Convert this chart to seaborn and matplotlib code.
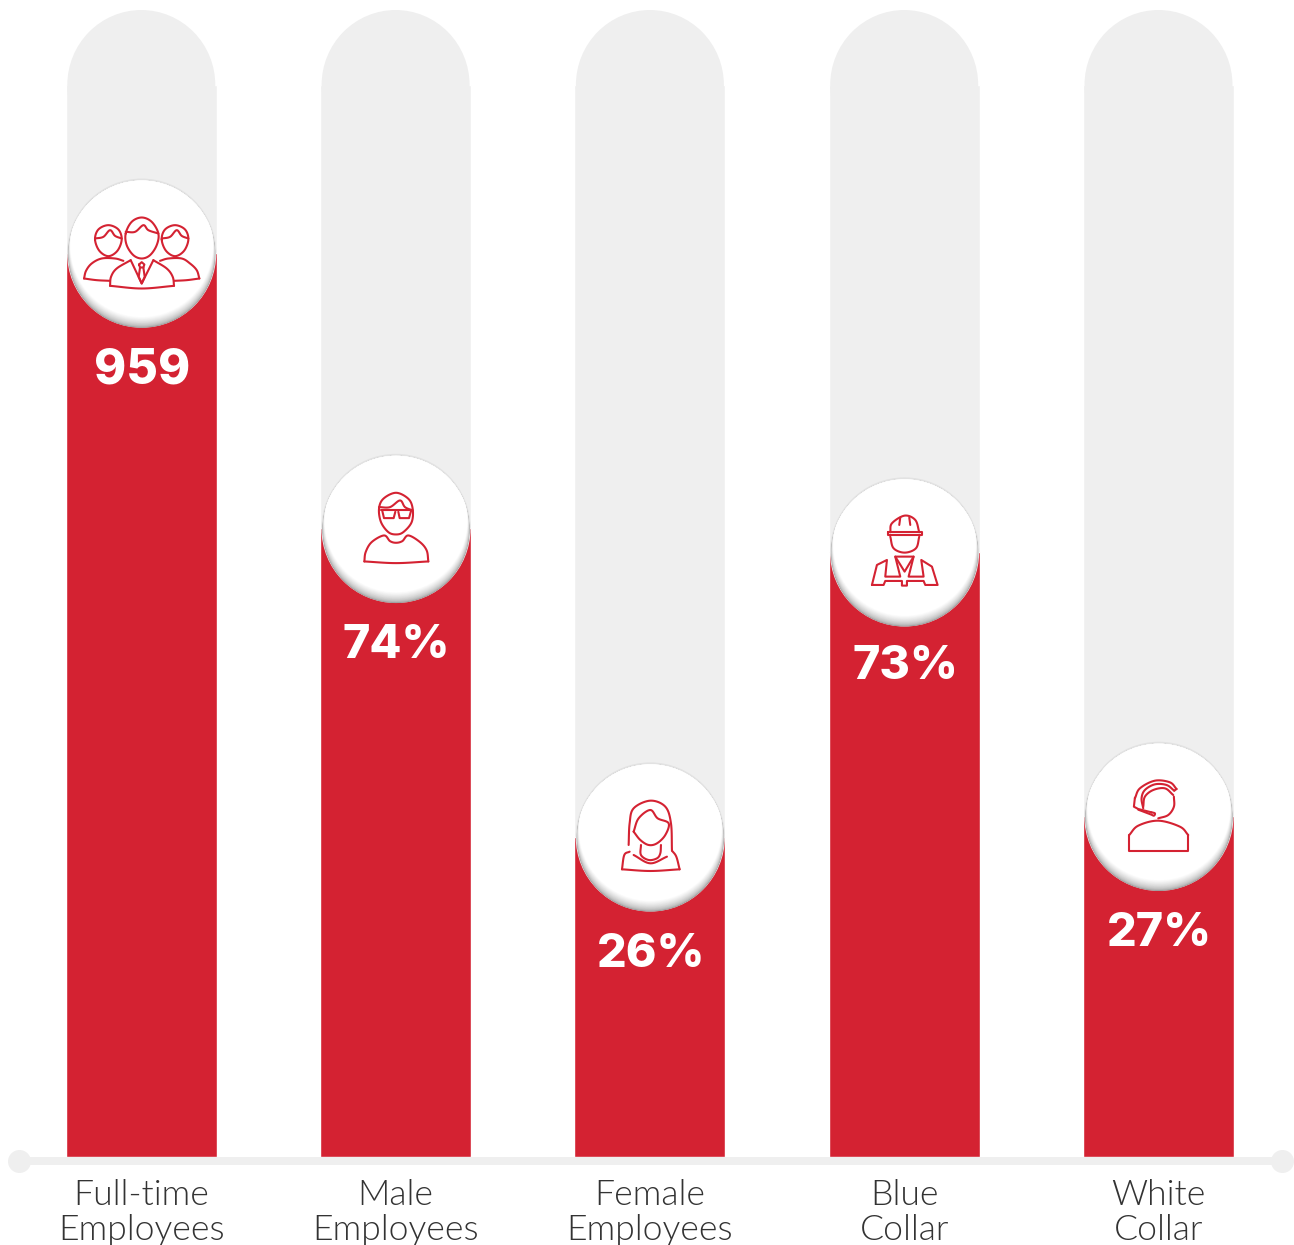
import numpy as np
import pandas as pd
import matplotlib
matplotlib.use("Agg")
import matplotlib.pyplot as plt
import seaborn as sns
from matplotlib import font_manager as fm
from matplotlib.patches import Circle, Ellipse, PathPatch
from matplotlib.path import Path
from matplotlib.transforms import Affine2D, IdentityTransform

categories = ["Full-time\nEmployees", "Male\nEmployees", "Female\nEmployees", "Blue\nCollar", "White\nCollar"]
value_labels = ["959", "74%", "26%", "73%", "27%"]
fill_share = [0.788, 0.548, 0.279, 0.5275, 0.297]
track_share = [0.9346, 0.9346, 0.9346, 0.9346, 0.9346]

RED = "#d42232"
GREY = "#efefef"
W, H = 1294, 1245
BASE = 1157      # px of baseline
FULL = 1147      # px height of whole track
STEP = 254.3     # px between bars
X0 = 141.3

sns.set_theme(style="white")
fig = plt.figure(figsize=(W / 100, H / 100), dpi=100, facecolor="white")
ax = fig.add_axes([0, (H - BASE) / H, 1, BASE / H])

df = pd.DataFrame({"category": categories, "fill": fill_share, "track": track_share})
sns.barplot(data=df, x="category", y="track", color=GREY, saturation=1, width=151 / STEP, ax=ax, zorder=1)
sns.barplot(data=df, x="category", y="fill", color=RED, saturation=1, width=151 / STEP, ax=ax, zorder=2)

ax.set_xlim(-X0 / STEP, (W - X0) / STEP)
ax.set_ylim(0, BASE / FULL)
ax.set_xlabel("")
ax.set_ylabel("")
ax.set_yticks([])
for s in ["top", "left", "right"]:
    ax.spines[s].set_visible(False)
ax.patch.set_alpha(0)

# axis rail with end dots
xl, xr = (19 - X0) / STEP, (1282 - X0) / STEP
ax.spines["bottom"].set_color(GREY)
ax.spines["bottom"].set_linewidth(8 * 0.72)
ax.spines["bottom"].set_position(("outward", 4 * 0.72))
ax.spines["bottom"].set_bounds(xl, xr)
ax.plot([xl, xr], [-4 / FULL, -4 / FULL], ls="none", marker="o", ms=23 * 0.72, mfc=GREY, mec="none",
        clip_on=False, zorder=3)

# pick the Lato Light file when one is installed (not Thin/Hairline)
light_file = None
for f in fm.fontManager.ttflist:
    if f.name == "Lato" and f.weight == 300 and f.style == "normal" and "Light" in f.fname:
        light_file = f.fname
        break
    if f.name == "Lato Light" and f.style == "normal":
        light_file = f.fname
        break
label_fp = fm.FontProperties(fname=light_file) if light_file else fm.FontProperties(family="Lato")
ax.set_xticks(range(len(categories)))
ax.set_xticklabels(categories, fontproperties=label_fp, size=25.6, color="#333333", linespacing=1.1)
ax.tick_params(axis="x", length=0, pad=13)

# rounded caps of the tracks
for i, t in enumerate(track_share):
    ax.add_patch(Ellipse((i, t), 148 / STEP, 150 / FULL, fc=GREY, ec="none", zorder=1))


def smooth(pts, closed=False, n=10):
    p = np.asarray(pts, float)
    if closed:
        q = np.vstack([p[-1], p, p[0], p[1]])
    else:
        q = np.vstack([2 * p[0] - p[1], p, 2 * p[-1] - p[-2]])
    out = []
    for k in range(1, len(q) - 2):
        p0, p1, p2, p3 = q[k - 1], q[k], q[k + 1], q[k + 2]
        for t in np.linspace(0, 1, n, endpoint=False):
            out.append(0.5 * (2 * p1 + (p2 - p0) * t + (2 * p0 - 5 * p1 + 4 * p2 - p3) * t ** 2
                              + (3 * p1 - p0 - 3 * p2 + p3) * t ** 3))
    out.append(q[-2])
    return np.array(out)


S = lambda *pts: smooth(pts)
C = lambda *pts: smooth(pts, closed=True)
L = lambda *pts: np.array(pts, float)


def person_small(dx):
    return [
        C((105 + dx, 208), (115 + dx, 178), (145 + dx, 165), (175 + dx, 178), (185 + dx, 208),
          (172 + dx, 242), (145 + dx, 258), (118 + dx, 242)),
        S((105 + dx, 205), (130 + dx, 200), (150 + dx, 180), (165 + dx, 197), (185 + dx, 205)),
    ]


icon_group = (245, 249, person_small(0) + person_small(200) + [
    C((197, 190), (215, 155), (245, 142), (275, 155), (295, 190), (290, 225), (270, 255), (245, 265), (220, 255), (200, 225)),
    S((197, 185), (225, 185), (250, 165), (265, 180), (295, 190)),
    S((72, 325), (78, 302), (95, 280), (125, 265), (165, 265), (190, 272)),
    S((72, 325), (110, 330), (150, 332)),
    S((418, 325), (410, 300), (390, 280), (365, 265), (325, 265), (300, 272)),
    S((418, 325), (380, 330), (342, 332)),
    S((150, 347), (153, 320), (170, 295), (212, 270)),
    S((342, 347), (338, 320), (320, 295), (280, 270)),
    S((150, 347), (245, 355), (342, 347)),
    L((212, 270), (245, 340), (280, 270)),
    L((237, 283), (245, 276), (253, 283), (250, 292), (240, 292), (237, 283)),
    L((240, 292), (236, 320), (245, 340), (254, 320), (250, 292)),
])
icon_male = (243, 234, [
    C((192, 175), (205, 145), (243, 127), (280, 145), (293, 175), (290, 215), (265, 245), (243, 252), (220, 245), (198, 215)),
    S((192, 170), (225, 170), (255, 150), (270, 170), (293, 180)),
    L((198, 180), (292, 180)),
    L((202, 182), (207, 203), (236, 203), (241, 184)),
    L((250, 184), (254, 203), (282, 203), (288, 182)),
    S((148, 333), (152, 305), (170, 275), (207, 255), (225, 272), (243, 277), (262, 272), (280, 255), (315, 275), (335, 300), (340, 333)),
    S((148, 333), (243, 338), (340, 333)),
])
icon_female = (240, 231, [
    S((175, 255), (178, 190), (190, 145), (240, 122), (285, 140), (302, 190), (305, 272)),
    S((190, 215), (205, 175), (240, 150), (262, 175), (295, 190), (285, 225), (260, 250), (235, 255), (210, 240), (190, 215)),
    S((212, 255), (212, 285), (235, 300), (260, 295), (270, 280), (272, 255)),
    S((190, 285), (240, 310), (290, 290)),
    S((178, 275), (162, 285), (155, 328)),
    S((155, 328), (240, 333), (328, 328)),
    S((328, 328), (318, 290), (305, 272)),
])
icon_worker = (238, 231, [
    S((195, 172), (200, 145), (238, 122), (270, 135), (282, 172)),
    L((187, 172), (290, 172), (290, 180), (187, 180), (187, 172)),
    L((225, 128), (222, 150)),
    L((252, 128), (255, 150)),
    S((195, 185), (205, 220), (238, 233), (272, 220), (282, 185)),
    L((140, 330), (155, 270), (185, 255), (180, 305), (225, 305), (210, 245), (265, 245), (250, 305), (295, 305),
      (288, 255), (320, 275), (337, 330), (300, 330), (295, 318), (245, 318), (245, 332), (230, 332), (230, 318),
      (180, 318), (175, 330), (140, 330)),
    L((210, 245), (238, 290), (265, 245)),
])
icon_headset = (237, 234, [
    S((148, 290), (175, 262), (235, 247), (300, 265), (325, 290)),
    L((148, 290), (148, 338), (325, 338), (325, 290)),
    S((235, 240), (265, 230), (282, 205), (282, 175)),
    S((165, 180), (180, 150), (225, 127), (270, 132), (290, 152)),
    L((290, 152), (283, 157)),
    S((283, 157), (260, 140), (225, 138), (195, 155), (185, 180), (190, 210)),
    S((190, 205), (195, 175), (220, 155), (255, 150), (280, 170)),
    L((165, 178), (162, 205), (175, 212), (215, 222)),
    S((215, 222), (225, 225), (222, 232), (212, 228), (175, 214)),
])
icons = [icon_group, icon_male, icon_female, icon_worker, icon_headset]

fig.canvas.draw()
T = IdentityTransform()
for i, v in enumerate(fill_share):
    cx, cy = ax.transData.transform((i, v))
    cx += 0.4
    ax.add_patch(Circle((cx, cy), 74.6, fc="#e2e2e2", ec="none", transform=T, zorder=4, clip_on=False))
    clip = Circle((cx, cy - 1), 73.7, transform=T)
    n = 16
    for k in range(n + 1):
        t = k / n
        off = -1 + 8.5 * t
        r = 73.7 - 2.3 * t
        g = 0.60 + 0.40 * t ** 0.55
        c = Circle((cx, cy + off), r, fc=(g, g, g), ec="none", transform=T, zorder=4 + k * 0.01)
        ax.add_patch(c)
        c.set_clip_path(clip)
    ox, oy, shapes = icons[i]
    tr = Affine2D().translate(-ox, -oy).scale(1 / 3, -1 / 3).translate(cx, cy)
    for pts in shapes:
        ax.add_patch(PathPatch(Path(pts), fc="none", ec=RED, lw=1.5, transform=tr, zorder=6, clip_on=False,
                               joinstyle="round", capstyle="round"))
    drop = 127 if value_labels[i] == "73%" else 130
    size = 33.5 if value_labels[i].endswith("%") else 35
    ax.annotate(value_labels[i], xy=(i, v), xytext=(0.7, -drop * 0.72), textcoords="offset points",
                ha="center", va="baseline", color="white", family="Inter", weight=800, size=size, zorder=7)

fig.savefig("out.png", dpi=100, facecolor="white")
